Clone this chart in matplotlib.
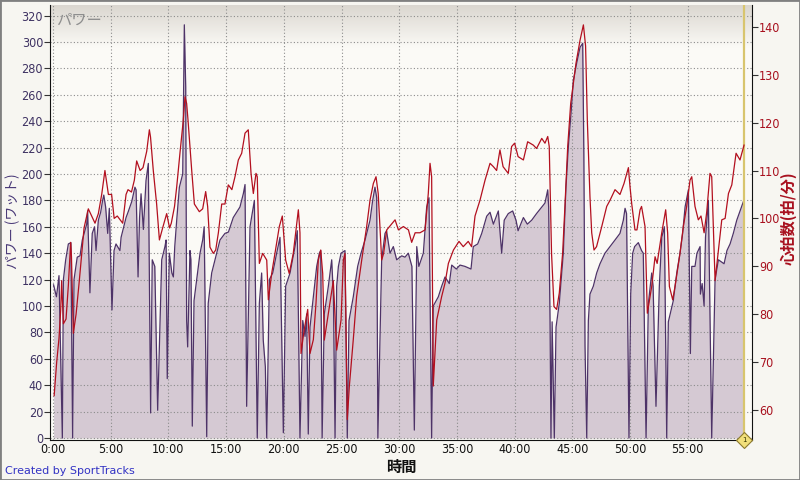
import numpy as np
import matplotlib
matplotlib.use("Agg")
import matplotlib.pyplot as plt
from matplotlib.colors import LinearSegmentedColormap
from matplotlib.patches import Rectangle
from matplotlib.ticker import FuncFormatter

plt.rcParams["font.family"] = ["DejaVu Sans", "Noto Sans CJK JP"]

# power trace (minutes, watts)
power_time = [
    0.05, 0.3, 0.52, 0.81, 0.9, 1.1, 1.33, 1.55, 1.7, 1.82, 2.1, 2.34, 2.54, 2.92, 3.0, 3.2,
    3.4, 3.6, 3.73, 3.93, 4.13, 4.3, 4.4, 4.56, 4.74, 4.88, 5.11, 5.29, 5.46, 5.8, 5.9, 6.33,
    6.5, 6.82, 7.1, 7.2, 7.37, 7.5, 7.63, 7.83, 8.06, 8.26, 8.46, 8.6, 8.82, 9.07, 9.42, 9.7,
    9.8, 9.9, 10.08, 10.3, 10.43, 10.55, 10.72, 10.95, 11.24, 11.38, 11.5, 11.58, 11.67, 11.87,
    11.95, 12.07, 12.22, 12.45, 12.74, 12.97, 13.1, 13.32, 13.4, 13.45, 13.75, 14.04, 14.47,
    14.9, 15.2, 15.62, 16.2, 16.49, 16.64, 16.78, 17.07, 17.45, 17.7, 17.88, 18.08, 18.22,
    18.4, 18.52, 18.75, 19.04, 19.38, 19.67, 19.96, 20.16, 20.54, 20.97, 21.17, 21.4, 21.64,
    21.84, 21.98, 22.12, 22.27, 22.56, 22.85, 23.08, 23.2, 23.32, 23.51, 23.86, 24.15, 24.3,
    24.44, 24.58, 24.73, 24.96, 25.3, 25.5, 25.65, 26.02, 26.4, 26.69, 27.04, 27.47, 27.7,
    27.9, 28.05, 28.15, 28.48, 28.77, 28.9, 29.2, 29.49, 29.78, 30.22, 30.5, 30.79, 31.1,
    31.31, 31.52, 31.7, 32.09, 32.38, 32.58, 32.81, 32.95, 33.39, 33.68, 33.97, 34.34, 34.55,
    34.95, 35.27, 35.7, 36.22, 36.42, 36.8, 37.15, 37.58, 37.87, 38.16, 38.59, 38.88, 39.1,
    39.45, 39.83, 40.12, 40.3, 40.76, 41.1, 41.48, 41.9, 42.35, 42.63, 42.87, 42.95, 43.07,
    43.15, 43.25, 43.44, 43.59, 43.87, 44.22, 44.45, 44.66, 44.89, 45.09, 45.38, 45.67, 45.9,
    46.0, 46.1, 46.25, 46.39, 46.53, 46.82, 47.11, 47.4, 47.83, 48.27, 48.7, 49.13, 49.42,
    49.57, 49.7, 49.91, 50.06, 50.23, 50.4, 50.72, 51.0, 51.15, 51.39, 51.59, 51.88, 52.0,
    52.25, 52.54, 52.75, 52.98, 53.18, 53.32, 53.75, 54.05, 54.33, 54.56, 54.77, 55.06,
    55.23, 55.35, 55.63, 55.8, 56.07, 56.1, 56.25, 56.42, 56.54, 56.79, 57.08, 57.37, 57.66,
    58.15, 58.4, 58.67, 58.95, 59.25, 59.53, 59.82,
]
power_watts = [
    116, 107, 123, 0, 120, 135, 147, 148, 0, 120, 137, 138, 150, 162, 172, 110,
    155, 160, 142, 165, 171, 180, 184, 175, 155, 174, 97, 142, 147, 142, 152, 167,
    171, 179, 190, 188, 122, 167, 185, 158, 195, 208, 19, 135, 130, 21, 135, 145,
    150, 45, 140, 125, 122, 145, 165, 190, 200, 313, 266, 89, 69, 142,
    135, 9, 104, 120, 140, 150, 160, 1, 67, 102, 125, 135, 150,
    155, 156, 167, 175, 185, 192, 24, 160, 180, 0, 102, 125, 74,
    54, 0, 120, 125, 140, 152, 4, 115, 125, 145, 157, 0, 89,
    77, 94, 3, 84, 107, 130, 140, 142, 0, 94, 115, 135, 107,
    0, 115, 130, 140, 142, 0, 89, 107, 130, 140, 150, 165, 180,
    190, 182, 0, 135, 155, 157, 140, 145, 135, 138, 137, 140, 130,
    6, 145, 130, 140, 175, 182, 0, 100, 107, 115, 122, 117, 131,
    128, 131, 130, 128, 145, 147, 155, 168, 171, 162, 172, 140, 165,
    170, 172, 165, 157, 167, 162, 165, 170, 175, 178, 188, 175, 89,
    0, 88, 0, 84, 102, 140, 190, 221, 246, 271, 284, 296, 299,
    215, 70, 0, 89, 109, 115, 125, 132, 140, 145, 150, 155, 165,
    174, 170, 0, 109, 140, 145, 148, 142, 140, 0, 102, 125, 115,
    24, 115, 152, 160, 0, 88, 104, 125, 140, 155, 175, 188,
    64, 130, 130, 140, 145, 109, 117, 100, 152, 180, 0, 120, 135,
    132, 142, 147, 155, 165, 172, 179,
]

# heart rate trace (minutes, bpm)
hr_time = [
    0.1, 0.32, 0.52, 0.67, 0.75, 0.9, 1.13, 1.33, 1.53, 1.6, 1.76, 2.0, 2.28, 2.5, 2.69, 3.06,
    3.25, 3.64, 3.93, 4.22, 4.5, 4.8, 5.08, 5.3, 5.57, 6.04, 6.33, 6.5, 6.8, 7.05, 7.25, 7.55,
    7.8, 8.12, 8.35, 8.45, 8.69, 8.98, 9.22, 9.5, 9.85, 10.1, 10.25, 10.53, 10.72, 11.0, 11.29,
    11.44, 11.58, 11.7, 12.02, 12.25, 12.68, 12.97, 13.23, 13.4, 13.6, 13.89, 14.1, 14.33,
    14.62, 14.9, 15.19, 15.5, 15.77, 16.06, 16.35, 16.64, 16.92, 17.16, 17.36, 17.59, 17.7,
    17.88, 18.17, 18.52, 18.66, 18.95, 19.32, 19.61, 19.87, 20.16, 20.47, 20.82, 21.26, 21.4,
    21.49, 21.75, 22.07, 22.27, 22.56, 22.79, 22.99, 23.2, 23.37, 23.51, 23.86, 24.29, 24.58,
    24.96, 25.16, 25.3, 25.5, 25.68, 26.02, 26.31, 26.75, 27.18, 27.47, 27.76, 27.99, 28.18,
    28.48, 28.65, 28.92, 29.64, 29.93, 30.36, 30.8, 31.08, 31.38, 31.8, 32.24, 32.52, 32.67,
    32.81, 32.95, 33.25, 33.68, 33.97, 34.26, 34.7, 35.18, 35.55, 35.98, 36.27, 36.57, 37.0,
    37.44, 37.87, 38.16, 38.44, 38.73, 39.0, 39.45, 39.74, 40.0, 40.3, 40.76, 41.13, 41.62,
    41.9, 42.35, 42.63, 42.87, 43.0, 43.2, 43.41, 43.64, 43.87, 44.16, 44.36, 44.6, 44.86,
    45.32, 45.67, 45.96, 46.15, 46.3, 46.53, 46.68, 46.88, 47.1, 47.55, 47.98, 48.27, 48.7,
    49.13, 49.48, 49.86, 50.0, 50.15, 50.43, 50.6, 50.87, 51.0, 51.3, 51.5, 51.88, 52.17,
    52.35, 52.75, 53.09, 53.26, 53.41, 53.7, 53.9, 54.33, 54.62, 54.91, 55.2, 55.35, 55.63,
    55.92, 56.15, 56.42, 56.65, 56.93, 57.08, 57.37, 57.66, 57.95, 58.24, 58.53, 58.82,
    59.19, 59.53, 59.88,
]
hr_bpm = [
    63, 70, 75, 81, 87, 78, 79, 86, 95, 92, 76, 80, 87, 93, 98, 102,
    101, 99, 101, 105, 110, 105, 105, 100, 100.5, 99, 105, 106, 105.5, 108, 112, 110,
    110.6, 114, 118.5, 117, 110, 103, 95.5, 98, 101, 98, 99, 102.5, 106.6, 113.6, 120.5,
    125.4, 124, 120.5, 110, 103, 101.4, 102, 105.6, 102.5, 94, 92.7, 93.4, 97,
    103, 103, 107, 106, 108.7, 112.2, 113.6, 117.8, 118.5, 109.4, 105.2, 109.4, 108.7,
    90.6, 92.7, 91.3, 83, 88.5, 94, 98.3, 100.5, 91.3, 88.5, 92.7, 101.8, 97,
    71.8, 76.5, 81, 71.8, 74.7, 82.3, 91.3, 93.4, 88.5, 74.6, 80.2, 87, 72.5,
    78.8, 91.3, 92.7, 58, 65, 74.7, 83.7, 91.3, 98.3, 103.8, 107.3, 108.7, 105.2,
    91.3, 92.7, 97.6, 99.7, 97.6, 98.3, 97.6, 95, 97, 97, 97.6, 105.2, 111.5,
    108.7, 65, 78.8, 83.7, 86.5, 90.6, 93.4, 95.2, 94.1, 95.2, 94.1, 100.5, 103.8,
    108, 111.5, 110.8, 110, 114.3, 110.8, 109.4, 115, 115.7, 112.9, 112.2, 116, 115.3,
    114.6, 116.7, 115.7, 117.1, 115, 92.7, 81.6, 81, 84.4, 92.7, 102.5, 115, 124,
    132.4, 137.2, 140.4, 136, 120.5, 104.5, 97, 93.4, 94.1, 98.3, 102.5, 103.8, 106,
    105, 107.3, 110.6, 106.6, 103, 97.6, 97.6, 101.8, 102.5, 98.3, 80.2, 85.8, 92,
    90.6, 97, 101.8, 97, 85.8, 83, 85.8, 92.7, 98.3, 102.5, 108, 108.7, 102.5,
    99.7, 100.5, 97, 101.4, 109.4, 108.7, 87, 93.4, 99.7, 100, 105.2, 107,
    113.6, 112.2, 115.3,
]

power_ticks = list(range(0, 321, 20))
hr_ticks = list(range(60, 141, 10))
time_ticks = list(range(0, 56, 5))
lap_time = 59.88

fig = plt.figure(figsize=(8, 4.8), dpi=100, facecolor="#F7F6F1")
ax = fig.add_axes([50 / 800, 40 / 480, 702 / 800, 435 / 480])
ax.set_facecolor("#FBFAF6")

# grey header band fading into the plot background
header = LinearSegmentedColormap.from_list("hdr", ["#DAD6CF", "#FBFAF6"])
ax.imshow(np.linspace(0, 1, 64).reshape(-1, 1), cmap=header, aspect="auto",
          extent=[0, 1, 0.90, 1], transform=ax.transAxes, zorder=0)

ax.fill_between(power_time, power_watts, 0, color="#D5C9D3", lw=0, zorder=1)
ax.plot(power_time, power_watts, color="#4E3368", lw=0.9, zorder=2)
ax.axvline(lap_time, color="#D8C56E", lw=1.6, zorder=3)

ax.set_xlim(-0.26, 60.57)
ax.set_ylim(-1.5, 328)
ax.set_xticks(time_ticks)
ax.xaxis.set_major_formatter(FuncFormatter(lambda v, p: f"{int(v)}:00"))
ax.set_yticks(power_ticks)
ax.set_axisbelow("line")
ax.grid(True, color="#8C8C8C", linestyle=(0, (1, 2)), linewidth=0.8)

ax.tick_params(axis="x", length=0, pad=2, labelsize=9, labelcolor="#111111")
ax.tick_params(axis="y", direction="out", length=4, color="#333333",
               labelsize=9, labelcolor="#3E3262", pad=1)
for lbl in ax.get_xticklabels() + ax.get_yticklabels():
    lbl.set_fontstretch("condensed")
for s in ["top", "right"]:
    ax.spines[s].set_visible(False)
for s in ["left", "bottom"]:
    ax.spines[s].set_color("#111111")

ax2 = ax.twinx()
ax2.plot(hr_time, hr_bpm, color="#B3101F", lw=0.9)
ax2.set_ylim(53.74, 144.55)
ax2.set_yticks(hr_ticks)
ax2.tick_params(axis="y", direction="out", length=4, color="#333333",
                labelsize=9, labelcolor="#A8101E", pad=1)
for lbl in ax2.get_yticklabels():
    lbl.set_fontstretch("condensed")
for s in ["top", "left", "bottom"]:
    ax2.spines[s].set_visible(False)
ax2.spines["right"].set_color("#111111")

ax2.plot(lap_time, 53.74, marker="D", ms=8, mfc="#F1DF7A", mec="#8C7A2E",
         mew=0.8, clip_on=False, zorder=6)
ax2.text(lap_time, 53.74, "1", fontsize=5, ha="center", va="center",
         color="#333300", clip_on=False, zorder=7)

cjk = ["Noto Sans CJK JP", "DejaVu Sans"]
ax.text(0.008, 0.985, "パワー", transform=ax.transAxes, family=cjk,
        fontsize=11, color="#8E8E8E", ha="left", va="top")
fig.text(13 / 800, 1 - 221 / 480, "パワー (ワット)", family=cjk, rotation=90,
         fontsize=10, color="#4A3A78", ha="center", va="center")
fig.text(788 / 800, 1 - 218 / 480, "心拍数(拍/分)", family=cjk, rotation=90,
         fontsize=11, color="#A8101E", fontweight="bold", ha="center", va="center")
fig.text(401 / 800, 1 - 467 / 480, "時間", family=cjk, fontsize=11,
         fontweight="bold", color="#111111", ha="center", va="center")
fig.text(5 / 800, 1 - 471 / 480, "Created by SportTracks", fontsize=8,
         color="#3333C4", ha="left", va="center")

fig.patches.append(Rectangle((0, 0), 1, 1, transform=fig.transFigure,
                             fill=False, edgecolor="#808080", lw=2))

fig.savefig("out.png", dpi=100, facecolor=fig.get_facecolor())
